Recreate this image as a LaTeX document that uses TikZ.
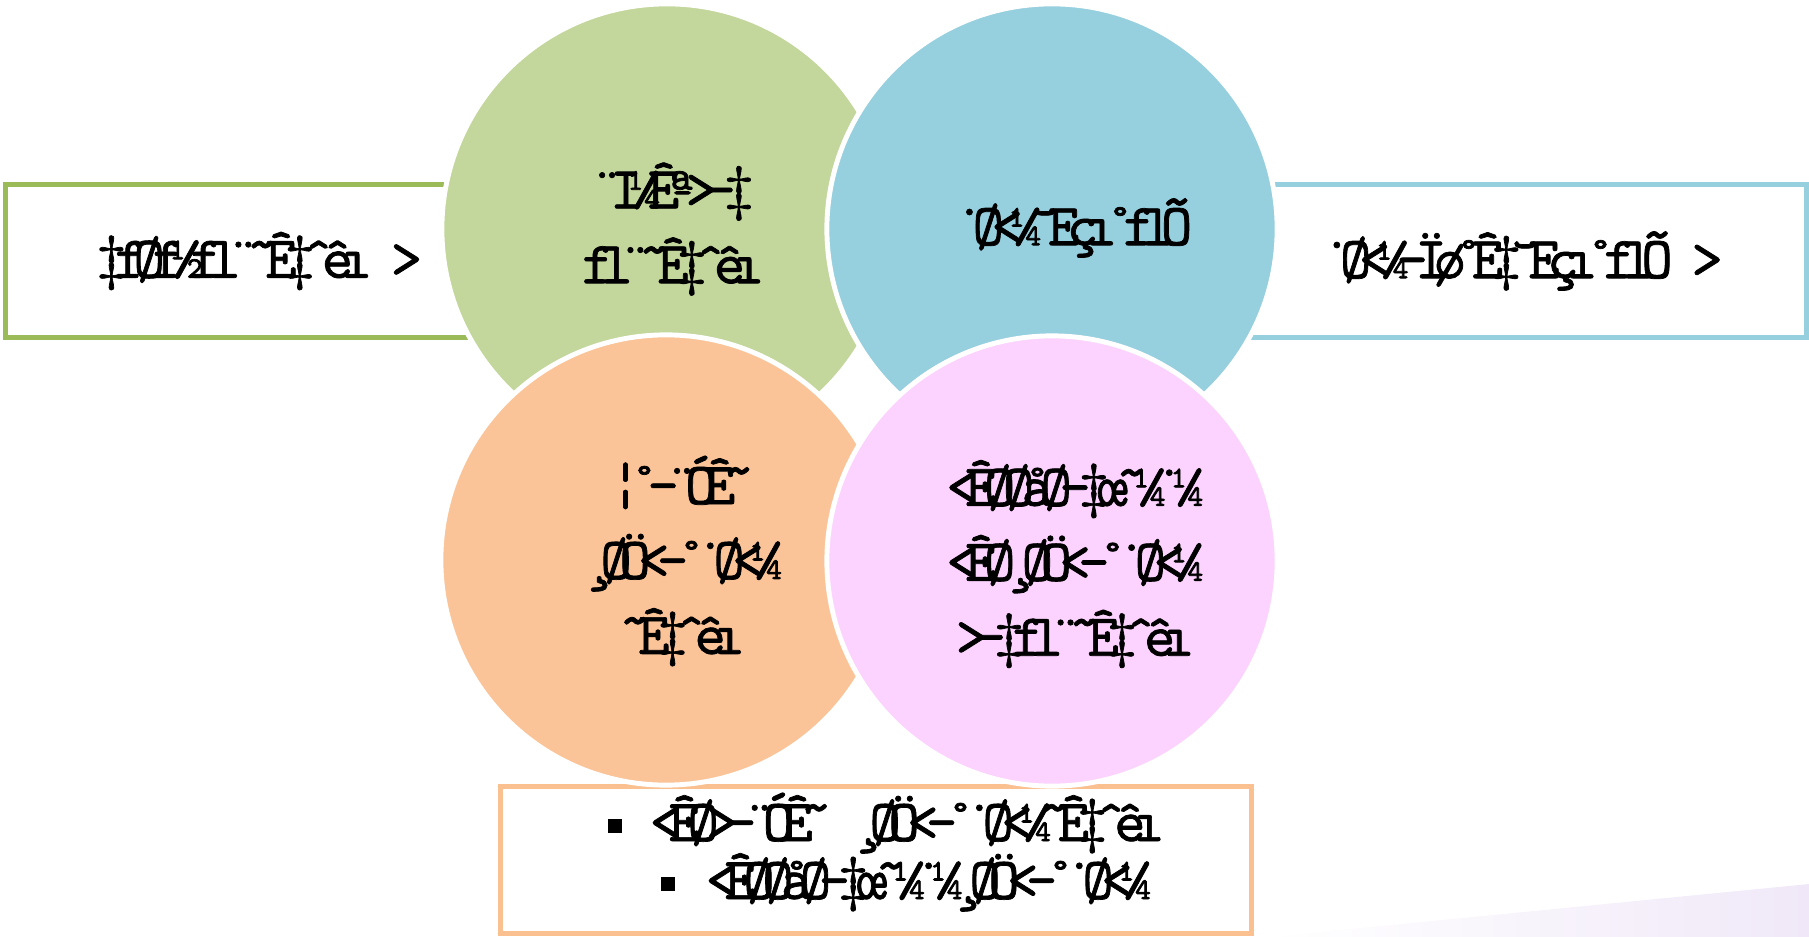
\documentclass[tikz,border=0pt]{standalone}
\usepackage{fontspec}
\usepackage{tikz}
\usetikzlibrary{calc}
\newfontfamily\garb[LetterSpace=-21,FakeBold=1.2]{lmmono10-regular.otf}
\definecolor{gfill}{HTML}{C3D69B}
\definecolor{gline}{HTML}{9BBB59}
\definecolor{bfill}{HTML}{96CFDE}
\definecolor{ofill}{HTML}{FAC498}
\definecolor{oline}{HTML}{FAC090}
\definecolor{pfill}{HTML}{FCD3FE}
\definecolor{lav}{HTML}{F0E8F8}

\begin{document}
\begin{tikzpicture}[x=0.01cm, y=-0.01cm,
	bub/.style={circle, draw=white, line width=1.4pt, minimum size=4.5cm, inner sep=0pt},
	frame/.style={rectangle, line width=1.4pt, fill=white, inner sep=0pt},
	txt/.style={font=\garb\fontsize{17}{21.3}\selectfont, align=center, inner sep=0pt}]
	\useasboundingbox (0,0) rectangle (1809,937);
	
	\shade[left color=white, right color=lav] (1269,937) -- (1809,884) -- (1809,937) -- cycle;
	
	\node[frame, draw=gline, minimum width=5.06cm, minimum height=1.52cm, txt] (lb) at (259,261) {‡fØf½fl¨˜Ê‡ˆêı >};
	\node[frame, draw=bfill, minimum width=5.68cm, minimum height=1.52cm, txt] (rb) at (1522,261) {˙Ø<¼—Ïø˚Ê‡˘Eçı˚flÕ >};
	\node[frame, draw=oline, minimum width=7.51cm, minimum height=1.47cm] (bb) at (876,860) {};
	
	\node[bub, fill=gfill] (g) at (667,229) {};
	\node[bub, fill=bfill] (b) at (1052,229) {};
	\node[bub, fill=ofill] (o) at (666,560) {};
	\node[bub, fill=pfill] (p) at (1052,561) {};
	
	\node[txt] (gt) at ($(g)+(6,0)$) {¨I¼Êª>—‡\\fl¨˜Ê‡ˆêı};
	\node[txt] (bt) at ($(b)+(21,-1)$) {˙Ø<¼˘Eçı˚flÕ};
	\node[txt] (ot) at ($(o)+(16,1)$) {¦˚—¨ÓÊ˜\\¸ØÖ<—˚˙Ø<¼\\˜Ê‡ˆêı};
	\node[txt] (pt) at ($(p)+(23,3)$) {<ÊØØåØ—‡œ˜¼˙¼\\<ÊØ¸ØÖ<—˚˙Ø<¼\\>—‡fl¨˜Ê‡ˆêı};
	
	\node[txt, anchor=base west] (l1) at (607,841) {\rule[0.08cm]{0.14cm}{0.14cm}\hspace{0.28cm}<ÊØ>—¨ÓÊ˜ ¸ØÖ<—˚˙Ø<¼˜Ê‡ˆêı};
	\node[txt, anchor=base west] (l2) at (660,899) {\rule[0.08cm]{0.14cm}{0.14cm}\hspace{0.31cm}<ÊØØåØ—‡œ˜¼˙¼¸ØÖ<—˚˙Ø<¼};
\end{tikzpicture}
\end{document}
